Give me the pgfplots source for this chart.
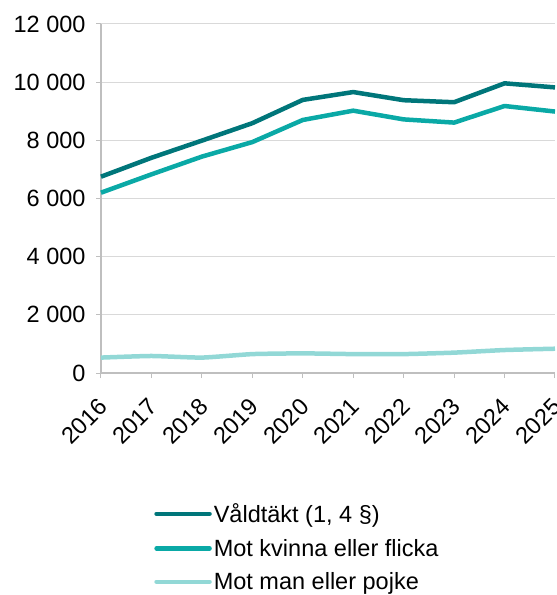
\documentclass[border=0pt]{standalone}
\usepackage{pgfplots}
\pgfplotsset{compat=1.18}
\usepackage{fontspec}
\setmainfont{Liberation Sans}
\definecolor{cdark}{HTML}{00767A}
\definecolor{cmid}{HTML}{0AA9A6}
\definecolor{clight}{HTML}{92D8D6}
\definecolor{cgrid}{HTML}{D9D9D9}
\definecolor{caxis}{HTML}{BFBFBF}
\begin{document}
\begin{tikzpicture}[font=\fontsize{23.5bp}{28bp}\selectfont]
\useasboundingbox (-101bp,-222bp) rectangle (456bp,373bp);
\begin{axis}[
  at={(0,0)}, anchor=south west,
  scale only axis,
  width=454bp, height=349bp,
  xmin=2016, xmax=2025,
  ymin=0, ymax=12000,
  xtick={2016,...,2025},
  ytick={0,2000,...,12000},
  scaled y ticks=false,
  tick label style={font=\fontsize{23.5bp}{28bp}\selectfont},
  xticklabel style={rotate=45, anchor=north east, inner sep=0bp, xshift=-16bp, yshift=-10.5bp},
  yticklabel style={xshift=-7bp},
  x tick label style={/pgf/number format/1000 sep={}},
  y tick label style={/pgf/number format/1000 sep={\ }},
  /pgf/number format/assume math mode=true,
  axis x line*=bottom, axis y line*=left,
  axis line style={caxis, line width=1.2bp, -},
  tick style={caxis, line width=1bp},
  major tick length=5bp,
  tick align=outside,
  ymajorgrids, grid style={cgrid, line width=1bp},
  clip=false,
  legend style={at={(0.117,-0.368)}, anchor=north west, draw=none, fill=none,
    font=\fontsize{23.5bp}{28bp}\selectfont, row sep=11bp, inner sep=0pt},
  legend cell align=left,
  legend image code/.code={\draw[#1, line cap=round] (0bp,0bp) -- (53bp,0bp);},
  every axis plot/.append style={line width=4.5bp, line join=round},
]
\addplot[cdark] coordinates {
(2016,6750) (2017,7400) (2018,7990) (2019,8590) (2020,9390)
(2021,9660) (2022,9380) (2023,9310) (2024,9960) (2025,9820)};
\addlegendentry{Våldtäkt (1, 4 §)}
\addplot[cmid] coordinates {
(2016,6200) (2017,6830) (2018,7440) (2019,7940) (2020,8700)
(2021,9020) (2022,8720) (2023,8610) (2024,9180) (2025,8990)};
\addlegendentry{Mot kvinna eller flicka}
\addplot[clight, smooth, tension=0.3] coordinates {
(2016,530) (2017,585) (2018,530) (2019,650) (2020,675)
(2021,650) (2022,650) (2023,700) (2024,790) (2025,835)};
\addlegendentry{Mot man eller pojke}
\end{axis}
\end{tikzpicture}
\end{document}
